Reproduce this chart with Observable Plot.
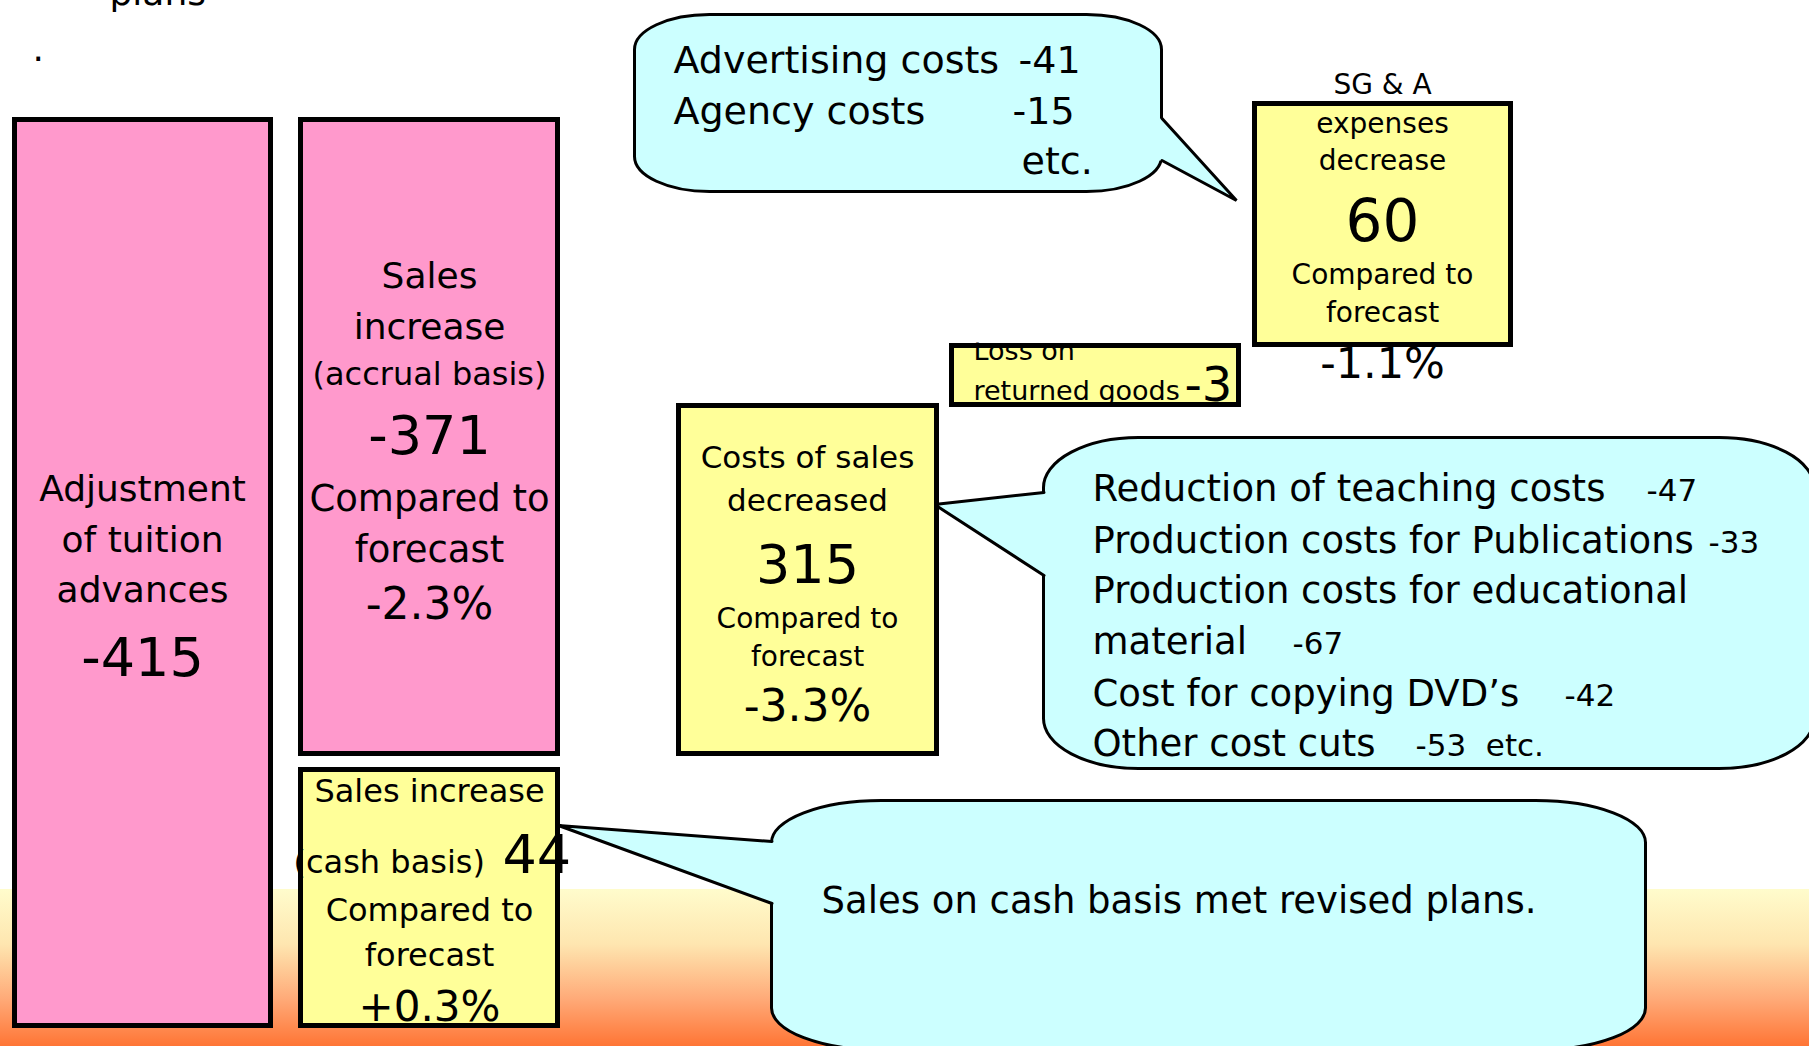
<!DOCTYPE html>
<html><head><meta charset="utf-8">
<script src="https://cdn.jsdelivr.net/npm/d3@7"></script>
<script src="https://cdn.jsdelivr.net/npm/@observablehq/plot@0.6"></script>
<style>
html,body{margin:0;padding:0;background:#fff;overflow:hidden;}
#chart svg{display:block;overflow:hidden;}
</style></head><body><div id="chart"></div>
<script>
// ================= DATA =================
const boxTitles = [
  ["Adjustment", "of tuition", "advances"],
  ["Sales", "increase", "(accrual basis)"],
  ["Sales increase", "(cash basis)"],
  ["Costs of sales", "decreased"],
  ["Loss on", "returned goods"],
  ["SG & A", "expenses", "decrease"]
];
const boxValues = [-415, -371, 44, 315, -3, 60];
const boxPercents = [null, "-2.3%", "+0.3%", "-3.3%", null, "-1.1%"];
const compareLabel = ["Compared to", "forecast"];

const sgaItems = ["Advertising costs", "Agency costs"];
const sgaValues = [-41, -15];
const sgaTail = "etc.";

const cosItems = [
  "Reduction of teaching costs",
  "Production costs for Publications",
  "Production costs for educational",
  "material",
  "Cost for copying DVD\u2019s",
  "Other cost cuts"
];
const cosValues = [-47, -33, null, -67, -42, -53];
const cosTail = "etc.";

const cashNote = "Sales on cash basis met revised plans.";
const topFragments = ["plans", "."];

// ================= LAYOUT (canvas units) =================
const W = 1809, H = 1046;
const boxFill = ["#ff99cc", "#ff99cc", "#ffff99", "#ffff99", "#ffff99", "#ffff99"];
const boxGeom = [
  [14.5, 270.5, 119.5, 1025.5],
  [300.5, 557.5, 119.5, 753.5],
  [300.5, 557.5, 769.5, 1025.5],
  [678.5, 936.5, 405.5, 753.5],
  [951.5, 1238.5, 345.5, 404.5],
  [1254.5, 1510.5, 103.5, 344.5]
];
// [baseline, fontSize, x?, anchor?]
const boxTextLayout = [
  {cx: 142, title: [[500, 36], [551, 36], [601, 36]], value: [675, 54]},
  {cx: 429, title: [[287, 36], [338, 36], [384, 32]], value: [453, 54], cmp: [[510, 37], [561, 37]], pct: [618, 44]},
  {cx: 429, title: [[801, 32], [872, 32, 293, "start"]], value: [872, 54, 502, "start"], cmp: [[920, 32], [965, 32]], pct: [1020, 42]},
  {cx: 807, title: [[467, 31], [510, 31]], value: [582, 54], cmp: [[627, 28], [665, 28]], pct: [720, 44]},
  {cx: 0, title: [[359, 27, 973, "start"], [399, 27, 973, "start"]], value: [400, 48, 1184, "start"]},
  {cx: 1382, title: [[93, 28], [132, 28], [169, 28]], value: [240, 58], cmp: [[283, 28], [321, 28]], pct: [377, 43]}
];
const callouts = [
  {id: "sga", x1: 634.5, x2: 1161.5, y1: 14.5, y2: 191.5, rx: 75, ry: 35,
   tail: [[1161.5, 118], [1236, 200], [1161.5, 160]], inward: -6},
  {id: "cos", x1: 1043.5, x2: 1814, y1: 437.5, y2: 768.5, rx: 95, ry: 50,
   tail: [[1043.5, 492], [934, 504], [1043.5, 575]], inward: 6},
  {id: "cash", x1: 771.5, x2: 1645.5, y1: 800.5, y2: 1050, rx: 110, ry: 42,
   tail: [[771.5, 841], [558, 825], [771.5, 903]], inward: 6}
];
const sgaLayout = {x: 673, ys: [72, 123], size: 38, valueX: [1018, 1012], tail: [1021, 173]};
const cosLayout = {x: 1092, ys: [500, 552, 602, 653, 705, 755], size: 37, valueSize: 31,
  valueX: [1646, 1708, null, 1292, 1564, 1415]};
const cashLayout = {x: 821, y: 912, size: 37};
const fragLayout = [[109, 4, 36], [32, 60, 36]];
const bgBand = {x1: 0, x2: W, y1: 889, y2: H};
const lossMask = {x1: 955, x2: 1100, y1: 300, y2: 342.5};

// ================= BUILD ROWS =================
const textRows = [];
function addText(text, x, y, size, anchor) {
  textRows.push({text, x, y, size, anchor: anchor || "middle"});
}
boxTextLayout.forEach((L, i) => {
  L.title.forEach(([y, s, x, a], j) => addText(boxTitles[i][j], x ?? L.cx, y, s, a));
  const [vy, vs, vx, va] = L.value;
  addText(String(boxValues[i]), vx ?? L.cx, vy, vs, va);
  if (L.cmp) L.cmp.forEach(([y, s], j) => addText(compareLabel[j], L.cx, y, s));
  if (L.pct && boxPercents[i]) addText(boxPercents[i], L.cx, L.pct[0], L.pct[1]);
});
sgaItems.forEach((t, j) => {
  addText(t, sgaLayout.x, sgaLayout.ys[j], sgaLayout.size, "start");
  addText(String(sgaValues[j]), sgaLayout.valueX[j], sgaLayout.ys[j], sgaLayout.size, "start");
});
addText(sgaTail, sgaLayout.tail[0], sgaLayout.tail[1], sgaLayout.size, "start");
cosItems.forEach((t, j) => {
  addText(t, cosLayout.x, cosLayout.ys[j], cosLayout.size, "start");
  if (cosValues[j] != null) {
    const v = String(cosValues[j]) + (j === cosItems.length - 1 ? "  " + cosTail : "");
    addText(v, cosLayout.valueX[j], cosLayout.ys[j], cosLayout.valueSize, "start");
  }
});
addText(cashNote, cashLayout.x, cashLayout.y, cashLayout.size, "start");
topFragments.forEach((t, j) => addText(t, fragLayout[j][0], fragLayout[j][1], fragLayout[j][2], "start"));

const boxes = boxGeom.map(([x1, x2, y1, y2], i) => ({x1, x2, y1, y2, fill: boxFill[i]}));
const tailFill = [], tailLine = [];
callouts.forEach(c => {
  const [a, b, d] = c.tail;
  [[a[0] + c.inward, a[1]], a, b, d, [d[0] + c.inward, d[1]]].forEach(p => tailFill.push({id: c.id, x: p[0], y: p[1]}));
  [a, b, d].forEach(p => tailLine.push({id: c.id, x: p[0], y: p[1]}));
});

const font = "DejaVu Sans, Verdana, sans-serif";
const calloutMarks = callouts.map(c => Plot.rect([c], {
  x1: "x1", x2: "x2", y1: "y1", y2: "y2", rx: c.rx, ry: c.ry,
  fill: "#ccffff", stroke: "black", strokeWidth: 3
}));

const plot = Plot.plot({
  width: W, height: H, margin: 0,
  x: {domain: [0, W], range: [0, W], axis: null},
  y: {domain: [0, H], range: [0, H], axis: null},
  color: {type: "identity"},
  style: {fontFamily: font, background: "white", overflow: "hidden"},
  marks: [
    Plot.rect([bgBand], {x1: "x1", x2: "x2", y1: "y1", y2: "y2", fill: "url(#bgGrad)"}),
    ...calloutMarks,
    Plot.line(tailFill, {x: "x", y: "y", z: "id", fill: "#ccffff", stroke: "none", curve: "linear-closed"}),
    Plot.line(tailLine, {x: "x", y: "y", z: "id", stroke: "black", strokeWidth: 3, strokeLinejoin: "miter"}),
    Plot.rect(boxes, {x1: "x1", x2: "x2", y1: "y1", y2: "y2", fill: "fill", stroke: "black", strokeWidth: 5}),
    Plot.text(textRows.filter(d => d.anchor === "middle"), {
      x: "x", y: "y", text: "text", fontSize: "size", textAnchor: "middle", lineAnchor: "bottom", fill: "black"
    }),
    Plot.text(textRows.filter(d => d.anchor === "start"), {
      x: "x", y: "y", text: "text", fontSize: "size", textAnchor: "start", lineAnchor: "bottom", fill: "black"
    }),
    Plot.rect([lossMask], {x1: "x1", x2: "x2", y1: "y1", y2: "y2", fill: "white"})
  ]
});

const svg = d3.select(plot);
const grad = svg.insert("defs", ":first-child").append("linearGradient")
  .attr("id", "bgGrad").attr("x1", 0).attr("y1", 0).attr("x2", 0).attr("y2", 1);
[[0, "#fffccc"], [0.35, "#fee6b0"], [0.7, "#ffaa78"], [1, "#ff7535"]].forEach(([o, c]) =>
  grad.append("stop").attr("offset", o).attr("stop-color", c));

document.getElementById("chart").appendChild(plot);
</script></body></html>
